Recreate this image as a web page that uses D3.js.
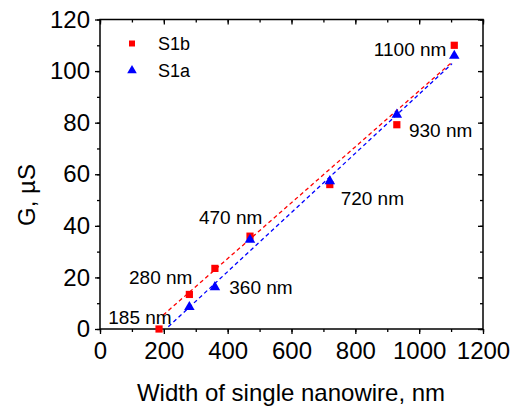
<!DOCTYPE html>
<html>
<head>
<meta charset="utf-8">
<script src="https://cdn.jsdelivr.net/npm/d3@7"></script>
<style>
  body { margin: 0; background: #fff; }
  svg text { font-family: "Liberation Sans", Arial, sans-serif; fill: #000; }
</style>
</head>
<body>
<div id="chart"></div>
<script>
// Data
var widthsB = [185, 280, 360, 470, 720, 930, 1110];
var condB = [0, 13.4, 23.5, 36, 56, 79.2, 110];
var widthsA = [280, 360, 470, 720, 930, 1110];
var condA = [8.9, 16.6, 35, 57.7, 83.5, 106.3];

// linear fit end points
var fitB = [[198, 5.4], [1103, 103.5]];
var fitA = [[214, 0.9], [1103, 102.9]];

var labelTexts = ["185 nm", "280 nm", "360 nm", "470 nm", "720 nm", "930 nm", "1100 nm"];
var labelX = [26, 91, 405, 310, 754, 968, 858];
var labelY = [1.9, 17.4, 13.5, 40.6, 48, 74.4, 105.7];

var xTicks = [0, 200, 400, 600, 800, 1000, 1200];
var yTicks = [0, 20, 40, 60, 80, 100, 120];

var svgWidth = 516;
var svgHeight = 412;

var svg = d3.select("#chart")
    .append("svg")
    .attr("width", svgWidth)
    .attr("height", svgHeight);

var xScale = d3.scaleLinear().domain([0, 1200]).range([100, 483]);
var yScale = d3.scaleLinear().domain([0, 120]).range([329, 19.5]);

var minorX = d3.range(0, 1201, 100);
var minorY = d3.range(0, 121, 10);

// minor ticks, all four sides
function tickOnly(axis) {
    return axis.tickFormat("").tickSizeOuter(0);
}
svg.append("g").attr("transform", "translate(0,329)")
    .call(tickOnly(d3.axisBottom(xScale).tickValues(minorX).tickSize(3)));
svg.append("g").attr("transform", "translate(0,19.5)")
    .call(tickOnly(d3.axisBottom(xScale).tickValues(minorX).tickSize(3)));
svg.append("g").attr("transform", "translate(100,0)")
    .call(tickOnly(d3.axisLeft(yScale).tickValues(minorY).tickSize(3)));
svg.append("g").attr("transform", "translate(483,0)")
    .call(tickOnly(d3.axisLeft(yScale).tickValues(minorY).tickSize(3)));
// major ticks on top / right (inside)
svg.append("g").attr("transform", "translate(0,19.5)")
    .call(tickOnly(d3.axisBottom(xScale).tickValues(xTicks).tickSize(5)));
svg.append("g").attr("transform", "translate(483,0)")
    .call(tickOnly(d3.axisLeft(yScale).tickValues(yTicks).tickSize(5)));

// main axes
var xAxis = svg.append("g")
    .attr("transform", "translate(0,329)")
    .call(d3.axisBottom(xScale).tickValues(xTicks).tickFormat(d3.format("d"))
        .tickSize(5).tickPadding(8).tickSizeOuter(0));
var yAxis = svg.append("g")
    .attr("transform", "translate(100,0)")
    .call(d3.axisLeft(yScale).tickValues(yTicks).tickFormat(d3.format("d"))
        .tickSize(5).tickPadding(5).tickSizeOuter(0));

svg.selectAll(".tick text")
    .style("font-size", "24px")
    .style("font-family", "'Liberation Sans', Arial, sans-serif");
svg.selectAll(".domain").remove();
svg.selectAll(".tick line").attr("stroke", "#000").attr("stroke-width", 1.3);

// frame
svg.append("rect")
    .attr("x", 100).attr("y", 19.5)
    .attr("width", 383).attr("height", 309.5)
    .attr("fill", "none")
    .attr("stroke", "#000")
    .attr("stroke-width", 1.5);

// fit lines
var line = d3.line().x(d => xScale(d[0])).y(d => yScale(d[1]));
svg.append("path").datum(fitB).attr("d", line)
    .attr("fill", "none").attr("stroke", "#ff0000")
    .attr("stroke-width", 1.3).attr("stroke-dasharray", "4,3");
svg.append("path").datum(fitA).attr("d", line)
    .attr("fill", "none").attr("stroke", "#0000ff")
    .attr("stroke-width", 1.3).attr("stroke-dasharray", "4,3");

// markers
var square = d3.symbol().type(d3.symbolSquare).size(52);
var triangle = d3.symbol().type(d3.symbolTriangle).size(48);

svg.selectAll(".ptB")
    .data(widthsB)
    .enter()
    .append("path")
    .attr("class", "ptB")
    .attr("d", square)
    .attr("transform", (d, i) => `translate(${xScale(d)},${yScale(condB[i])})`)
    .attr("fill", "#ff0000");

svg.selectAll(".ptA")
    .data(widthsA)
    .enter()
    .append("path")
    .attr("class", "ptA")
    .attr("d", triangle)
    .attr("transform", (d, i) => `translate(${xScale(d)},${yScale(condA[i]) + 1})`)
    .attr("fill", "#0000ff");

// point labels
svg.selectAll(".lbl")
    .data(labelTexts)
    .enter()
    .append("text")
    .attr("class", "lbl")
    .attr("x", (d, i) => xScale(labelX[i]))
    .attr("y", (d, i) => yScale(labelY[i]))
    .style("font-size", "19px")
    .text(d => d);

// legend
svg.append("path").attr("d", d3.symbol().type(d3.symbolSquare).size(36))
    .attr("transform", "translate(132,43.5)").attr("fill", "#ff0000");
svg.append("path").attr("d", d3.symbol().type(d3.symbolTriangle).size(40))
    .attr("transform", "translate(132,70.5)").attr("fill", "#0000ff");
svg.append("text").attr("x", 158).attr("y", 50).style("font-size", "18px").text("S1b");
svg.append("text").attr("x", 158).attr("y", 76.5).style("font-size", "18px").text("S1a");

// axis titles
svg.append("text")
    .attr("x", 291).attr("y", 401)
    .attr("text-anchor", "middle")
    .style("font-size", "24px")
    .text("Width of single nanowire, nm");
svg.append("text")
    .attr("transform", "translate(35,195) rotate(-90)")
    .attr("text-anchor", "middle")
    .style("font-size", "24px")
    .text("G, µS");
</script>
</body>
</html>
